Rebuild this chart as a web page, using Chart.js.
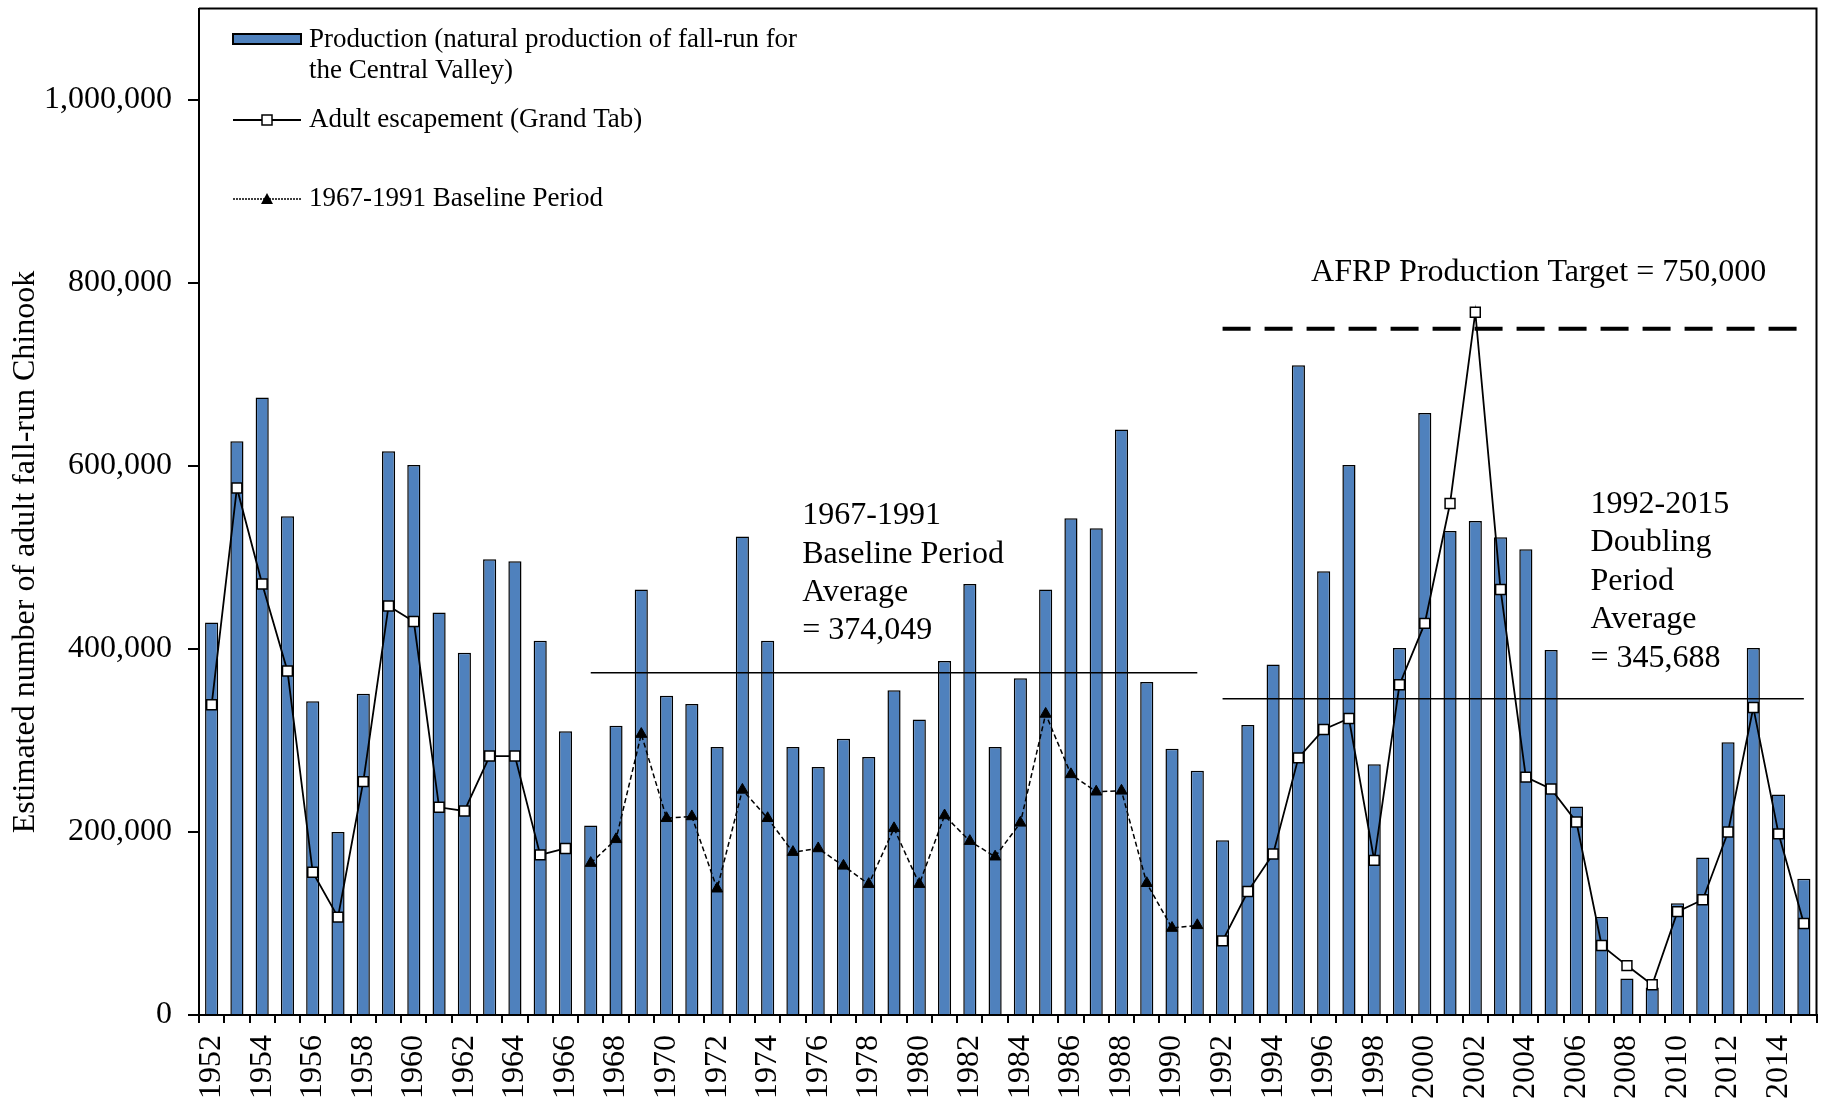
<!DOCTYPE html>
<html>
<head>
<meta charset="utf-8">
<title>Central Valley fall-run Chinook</title>
<script src="https://cdn.jsdelivr.net/npm/chart.js@4.4.1/dist/chart.umd.min.js"></script>
<style>
  html, body { margin: 0; padding: 0; background: #fff; }
  #wrap { width: 1825px; height: 1105px; position: relative; }
</style>
</head>
<body>
<div id="wrap"><canvas id="chinook-chart"></canvas></div>
<script>
const years = [
    '1952', '1953', '1954', '1955', '1956', '1957', '1958', '1959', '1960', '1961',
    '1962', '1963', '1964', '1965', '1966', '1967', '1968', '1969', '1970', '1971',
    '1972', '1973', '1974', '1975', '1976', '1977', '1978', '1979', '1980', '1981',
    '1982', '1983', '1984', '1985', '1986', '1987', '1988', '1989', '1990', '1991',
    '1992', '1993', '1994', '1995', '1996', '1997', '1998', '1999', '2000', '2001',
    '2002', '2003', '2004', '2005', '2006', '2007', '2008', '2009', '2010', '2011',
    '2012', '2013', '2014', '2015'
];

// natural production of fall-run, Central Valley
const production = [
    429000, 627000, 675000, 545000, 343000, 200000, 351000, 616000, 601000, 440000,
    396000, 498000, 496000, 409000, 310000, 207000, 316000, 465000, 349000, 340000,
    293000, 523000, 409000, 293000, 271000, 302000, 282000, 355000, 323000, 387000,
    471000, 293000, 368000, 465000, 543000, 532000, 640000, 364000, 291000, 267000,
    191000, 317000, 383000, 710000, 485000, 601000, 274000, 401000, 658000, 529000,
    540000, 522000, 509000, 399000, 228000, 107000, 40000, 30000, 122000, 172000,
    298000, 401000, 241000, 149000
];

// adult escapement (GrandTab), outside the baseline period
const escapement = [
    339000, 576000, 471000, 376000, 156000, 107000, 255000, 447000, 430000, 227000,
    223000, 283000, 283000, 175000, 182000, null, null, null, null, null,
    null, null, null, null, null, null, null, null, null, null,
    null, null, null, null, null, null, null, null, null, null,
    81000, 135000, 176000, 281000, 312000, 324000, 169000, 361000, 428000, 559000,
    768000, 465000, 260000, 247000, 211000, 76000, 54000, 33000, 113000, 126000,
    200000, 336000, 198000, 100000
];

// adult escapement during the 1967-1991 baseline period
const baseline = [
    null, null, null, null, null, null, null, null, null, null,
    null, null, null, null, null, 166000, 192000, 307000, 215000, 217000,
    138000, 246000, 215000, 178000, 182000, 163000, 143000, 204000, 143000, 218000,
    190000, 173000, 210000, 329000, 263000, 244000, 245000, 144000, 95000, 98000,
    null, null, null, null, null, null, null, null, null, null,
    null, null, null, null, null, null, null, null, null, null,
    null, null, null, null
];

const baselineAvg = 374049;
const doublingAvg = 345688;
const afrpTarget = 750000;

const yTicks = [0, 200000, 400000, 600000, 800000, 1000000];

const barBlue = '#4f81bd';
const serif = '"Liberation Serif", "Times New Roman", serif';

// overlay: frame, legend, notes, axis title
const overlay = {
    id: 'overlay',
    afterDraw(chart) {
        const { ctx, chartArea: a, scales: { x, y } } = chart;
        const catW = (x.right - x.left) / years.length;
        const xAt = i => x.left + i * catW;

        ctx.save();
        ctx.strokeStyle = '#000';
        ctx.lineWidth = 2;
        ctx.beginPath();
        ctx.moveTo(a.left, a.top);
        ctx.lineTo(a.right, a.top);
        ctx.lineTo(a.right, a.bottom);
        ctx.stroke();

        ctx.fillStyle = '#000';
        ctx.textBaseline = 'middle';
        ctx.textAlign = 'left';

        // legend
        const lx = a.left + 34, lw = 68, tx = a.left + 110;
        ctx.font = '27px ' + serif;
        ctx.fillStyle = barBlue;
        ctx.fillRect(lx, 34, lw, 10);
        ctx.lineWidth = 2;
        ctx.strokeRect(lx, 34, lw, 10);
        ctx.fillStyle = '#000';
        ctx.fillText('Production (natural production of fall-run for', tx, 40);
        ctx.fillText('the Central Valley)', tx, 71);

        ctx.lineWidth = 2;
        ctx.beginPath();
        ctx.moveTo(lx, 120); ctx.lineTo(lx + lw, 120);
        ctx.stroke();
        ctx.fillStyle = '#fff';
        ctx.fillRect(lx + 29, 115, 10, 10);
        ctx.lineWidth = 1.5;
        ctx.strokeRect(lx + 29, 115, 10, 10);
        ctx.fillStyle = '#000';
        ctx.fillText('Adult escapement (Grand Tab)', tx, 120);

        ctx.setLineDash([2, 1]);
        ctx.beginPath();
        ctx.moveTo(lx, 199); ctx.lineTo(lx + lw, 199);
        ctx.stroke();
        ctx.setLineDash([]);
        ctx.beginPath();
        ctx.moveTo(lx + 34, 193); ctx.lineTo(lx + 40, 204); ctx.lineTo(lx + 28, 204);
        ctx.closePath();
        ctx.fill();
        ctx.fillText('1967-1991 Baseline Period', tx, 199);

        // notes
        ctx.font = '32px ' + serif;
        ctx.fillText('AFRP Production Target = 750,000', xAt(44), y.getPixelForValue(811000));
        ['1967-1991', 'Baseline Period', 'Average', '= 374,049'].forEach((t, i) => {
            ctx.fillText(t, xAt(23.87), y.getPixelForValue(545600 - i * 42000));
        });
        ['1992-2015', 'Doubling', 'Period', 'Average', '= 345,688'].forEach((t, i) => {
            ctx.fillText(t, xAt(55.06), y.getPixelForValue(558000 - i * 42000));
        });

        // y axis title
        ctx.translate(26, y.getPixelForValue(506000));
        ctx.rotate(-Math.PI / 2);
        ctx.textAlign = 'center';
        ctx.fillText('Estimated number of adult fall-run Chinook', 0, 0);
        ctx.restore();
    }
};

const ctx = document.getElementById('chinook-chart').getContext('2d');

const chinookChart = new Chart(ctx, {
    type: 'bar',
    data: {
        labels: years,
        datasets: [
            {
                type: 'line',
                label: 'AFRP Production Target',
                data: [{ x: '1992', y: afrpTarget }, { x: '2015', y: afrpTarget }],
                borderColor: '#000',
                borderWidth: 4,
                borderDash: [28, 14],
                pointRadius: 0,
                order: 1
            },
            {
                type: 'line',
                label: 'Baseline average',
                data: [{ x: '1967', y: baselineAvg }, { x: '1991', y: baselineAvg }],
                borderColor: '#000',
                borderWidth: 1.5,
                pointRadius: 0,
                order: 1
            },
            {
                type: 'line',
                label: 'Doubling average',
                data: [{ x: '1992', y: doublingAvg }, { x: '2015', y: doublingAvg }],
                borderColor: '#000',
                borderWidth: 1.5,
                pointRadius: 0,
                order: 1
            },
            {
                type: 'line',
                label: '1967-1991 Baseline Period',
                data: baseline,
                borderColor: '#000',
                borderWidth: 1.5,
                borderDash: [5, 3],
                pointStyle: 'triangle',
                pointRadius: 6.5,
                pointBackgroundColor: '#000',
                pointBorderColor: '#000',
                pointBorderWidth: 1,
                spanGaps: false,
                order: 0
            },
            {
                type: 'line',
                label: 'Adult escapement (Grand Tab)',
                data: escapement,
                borderColor: '#000',
                borderWidth: 1.8,
                pointStyle: 'rect',
                pointRadius: 7,
                pointBackgroundColor: '#fff',
                pointBorderColor: '#000',
                pointBorderWidth: 1.5,
                spanGaps: false,
                order: 0
            },
            {
                label: 'Production (natural production of fall-run for the Central Valley)',
                data: production,
                backgroundColor: barBlue,
                borderColor: '#000',
                borderWidth: 1.5,
                barPercentage: 0.52,
                categoryPercentage: 1,
                order: 5
            }
        ]
    },
    options: {
        responsive: true,
        maintainAspectRatio: false,
        animation: false,
        events: [],
        layout: { padding: { top: 4, right: 7, left: 0, bottom: 0 } },
        plugins: {
            legend: { display: false },
            tooltip: { enabled: false }
        },
        scales: {
            x: {
                offset: true,
                grid: {
                    offset: true,
                    drawOnChartArea: false,
                    color: '#000',
                    lineWidth: 2,
                    tickLength: 8
                },
                border: { color: '#000', width: 2 },
                ticks: {
                    autoSkip: false,
                    minRotation: 90,
                    maxRotation: 90,
                    padding: 12,
                    color: '#000',
                    font: { family: serif, size: 32 },
                    callback: (v, i) => (i % 2 === 0 ? years[i] : '')
                },
                afterFit: s => {
                    s.height = 90;
                    s.paddingLeft = 0;
                    s.paddingRight = 0;
                }
            },
            y: {
                min: 0,
                max: 1100000,
                afterBuildTicks: s => { s.ticks = yTicks.map(v => ({ value: v })); },
                grid: {
                    drawOnChartArea: false,
                    color: '#000',
                    lineWidth: 2,
                    tickLength: 11
                },
                border: { color: '#000', width: 2 },
                ticks: {
                    padding: 16,
                    color: '#000',
                    font: { family: serif, size: 32 },
                    callback: v => v.toLocaleString('en-US')
                },
                afterFit: s => {
                    s.width = 199;
                    s.paddingTop = 0;
                    s.paddingBottom = 0;
                }
            }
        }
    },
    plugins: [overlay]
});
</script>
</body>
</html>
